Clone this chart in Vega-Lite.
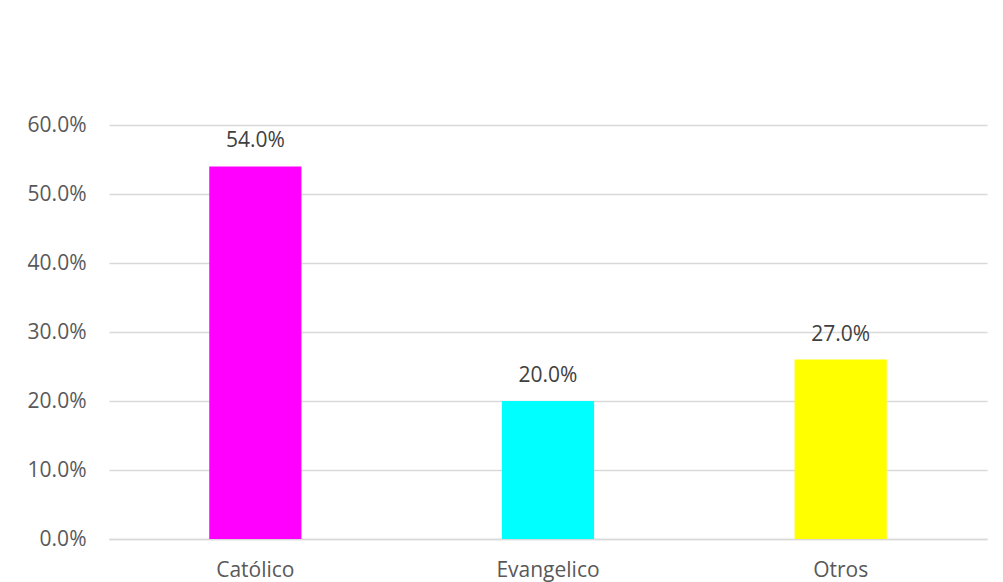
{
  "$schema": "https://vega.github.io/schema/vega-lite/v6.json",
  "width": 878,
  "height": 414,
  "autosize": "none",
  "padding": {"left": 109, "top": 125, "right": 16, "bottom": 43},
  "background": "white",
  "config": {"view": {"stroke": null}, "font": "Open Sans"},
  "data": {"values": [
    {"religion": "Católico", "value": 0.54, "label": "54.0%"},
    {"religion": "Evangelico", "value": 0.20, "label": "20.0%"},
    {"religion": "Otros", "value": 0.26, "label": "27.0%"}
  ]},
  "encoding": {
    "x": {"field": "religion", "type": "nominal", "sort": null,
      "scale": {"paddingInner": 0.685, "paddingOuter": 0.3425},
      "axis": {"title": null, "labelAngle": 0, "labelFont": "Open Sans", "labelFontSize": 21, "labelColor": "#595959", "ticks": false, "domain": true, "domainColor": "#d9d9d9", "domainWidth": 1.5, "labelPadding": 20}},
    "y": {"field": "value", "type": "quantitative",
      "scale": {"domain": [0, 0.6]},
      "axis": {"title": null, "format": ".1%", "values": [0, 0.1, 0.2, 0.3, 0.4, 0.5, 0.6], "labelFont": "Open Sans", "labelFontSize": 21, "labelColor": "#595959", "ticks": false, "domain": false, "gridColor": "#d9d9d9", "gridWidth": 1.5, "labelPadding": 23}}
  },
  "layer": [
    {"mark": {"type": "bar"},
     "encoding": {"color": {"field": "religion", "type": "nominal", "legend": null,
       "scale": {"domain": ["Católico", "Evangelico", "Otros"], "range": ["#FF00FF", "#00FFFF", "#FFFF00"]}}}},
    {"mark": {"type": "text", "baseline": "middle", "dy": -25, "fontSize": 21, "font": "Open Sans", "color": "#404040"},
     "encoding": {"text": {"field": "label"}}}
  ]
}
